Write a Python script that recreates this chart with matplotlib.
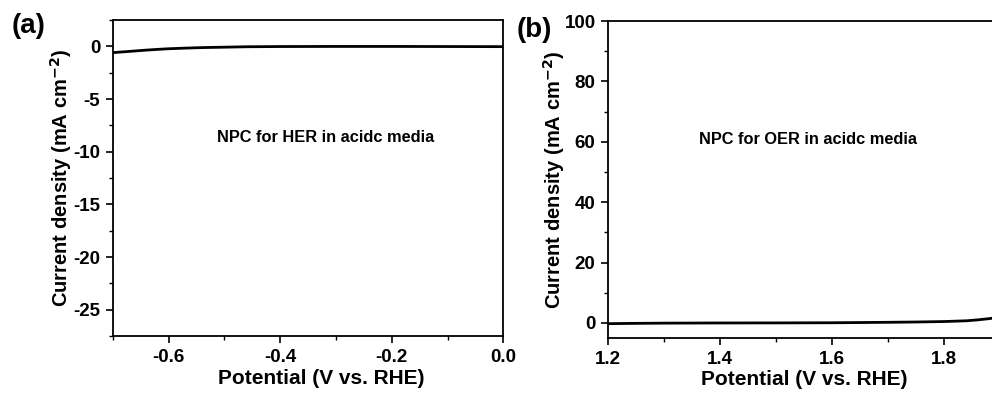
import numpy as np
import matplotlib.pyplot as plt
from matplotlib.ticker import MultipleLocator

plt.rcParams['font.family'] = ['Liberation Sans', 'DejaVu Sans']
plt.rcParams['font.weight'] = 'bold'
plt.rcParams['mathtext.default'] = 'bf'

# HER polarisation curve (V vs. RHE, mA cm-2)
her_v = [-0.70, -0.68, -0.66, -0.64, -0.62, -0.60, -0.57, -0.54, -0.50, -0.46, -0.40, -0.30, -0.20, -0.10, 0.00]
her_j = [-0.60, -0.52, -0.44, -0.36, -0.29, -0.23, -0.17, -0.12, -0.08, -0.04, -0.02, -0.01, -0.01, -0.02, -0.03]

# OER polarisation curve
oer_v = [1.20, 1.25, 1.30, 1.40, 1.50, 1.60, 1.65, 1.70, 1.75, 1.80, 1.84, 1.86, 1.88, 1.90]
oer_j = [-0.25, -0.15, -0.08, -0.02, 0.00, 0.05, 0.12, 0.20, 0.30, 0.45, 0.70, 1.00, 1.40, 1.90]

fig = plt.figure(figsize=(9.92, 3.94), dpi=100)
W, H = 992, 394
ax1 = fig.add_axes([112.7 / W, 1 - 336 / H, (503.3 - 112.7) / W, (336 - 20) / H])
ax2 = fig.add_axes([608 / W, 1 - 338 / H, (1000 - 608) / W, (338 - 21) / H])

ax1.plot(her_v, her_j, color='black', lw=2)
ax1.set_xlim(-0.7, 0.0)
ax1.set_ylim(-27.5, 2.5)
ax1.xaxis.set_major_locator(MultipleLocator(0.2))
ax1.xaxis.set_minor_locator(MultipleLocator(0.1))
ax1.yaxis.set_major_locator(MultipleLocator(5))
ax1.yaxis.set_minor_locator(MultipleLocator(2.5))
ax1.set_xticks([-0.6, -0.4, -0.2, 0.0])
ax1.set_xticklabels(['-0.6', '-0.4', '-0.2', '0.0'])
ax1.set_yticks([0, -5, -10, -15, -20, -25])
ax1.set_yticklabels(['0', '-5', '-10', '-15', '-20', '-25'])
ax1.text(-0.318, -8.7, 'NPC for HER in acidc media', fontsize=11.8,
         ha='center', va='center')

ax2.plot(oer_v, oer_j, color='black', lw=2)
ax2.set_xlim(1.2, 1.9)
ax2.set_ylim(-5, 100)
ax2.xaxis.set_major_locator(MultipleLocator(0.2))
ax2.xaxis.set_minor_locator(MultipleLocator(0.1))
ax2.yaxis.set_major_locator(MultipleLocator(20))
ax2.yaxis.set_minor_locator(MultipleLocator(10))
ax2.text(1.557, 60.7, 'NPC for OER in acidc media', fontsize=11.8,
         ha='center', va='center')

for ax in (ax1, ax2):
    for s in ax.spines.values():
        s.set_linewidth(1.3)
    ax.tick_params(which='major', direction='out', length=5, width=1.2,
                   labelsize=13.5, pad=4)
    ax.tick_params(which='minor', direction='out', length=3, width=1.0)
    ax.set_xlabel('Potential (V vs. RHE)', fontsize=15, fontweight='bold', va='top')
    ax.set_ylabel('Current density (mA cm$^{-2}$)', fontsize=14.5, fontweight='bold')

ax1.xaxis.set_label_coords(0.533, -0.104)
ax2.xaxis.set_label_coords(0.5, -0.101)
ax1.yaxis.set_label_coords(-0.099, 0.5)
ax2.yaxis.set_label_coords(-0.105, 0.5)

fig.text(12 / W, 1 - 26 / H, '(a)', fontsize=20, fontweight='bold', va='center')
fig.text(517 / W, 1 - 30 / H, '(b)', fontsize=20, fontweight='bold', va='center')

fig.savefig('out.png', dpi=100)
